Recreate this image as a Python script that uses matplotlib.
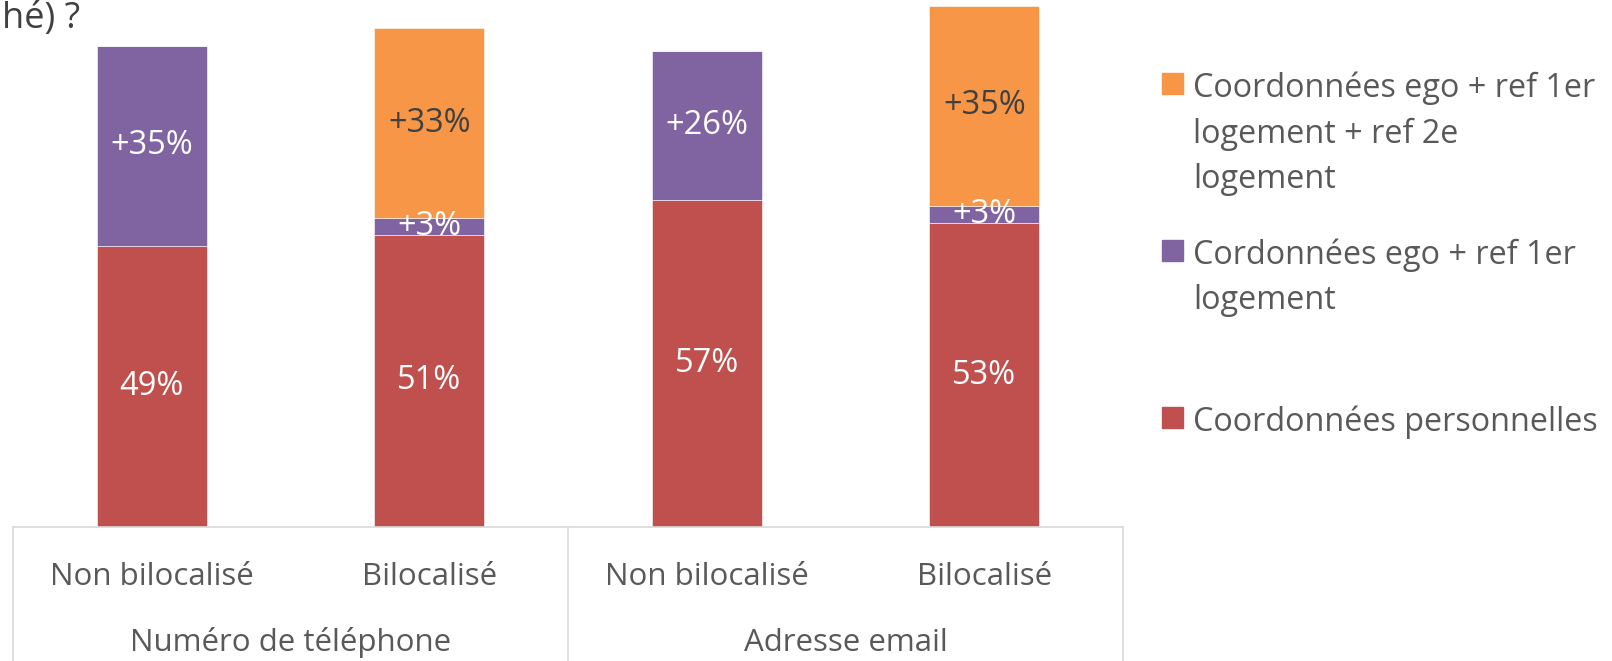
import matplotlib
matplotlib.use('Agg')
from matplotlib import pyplot as plt
import numpy as np

# data
categories = ['Non bilocalisé', 'Bilocalisé', 'Non bilocalisé', 'Bilocalisé']
groups = ['Numéro de téléphone', 'Adresse email']
perso = [49, 51, 57, 53]
ego_ref1 = [35, 3, 26, 3]
ego_ref12 = [0, 33, 0, 35]
legend_labels = ['Coordonnées ego + ref 1er\nlogement + ref 2e\nlogement',
                 'Cordonnées ego + ref 1er\nlogement',
                 'Coordonnées personnelles']

RED = '#C0504D'
PURPLE = '#8064A2'
ORANGE = '#F79646'
GRID = '#D9D9D9'
TXT = '#595959'

plt.rcParams['font.family'] = ['Open Sans', 'DejaVu Sans']

W, H = 1612, 661
fig = plt.figure(figsize=(W / 100, H / 100), dpi=100)

# axes placed in pixel coords: baseline at y=527, table from x=13 to x=1124
x0, x1 = 12.8, 1123.2
base = 527
px_per_pct = 5.73
ax = fig.add_axes([x0 / W, (H - base) / H, (x1 - x0) / W, base / H])
ax.set_xlim(-0.5, 3.5)
ax.set_ylim(0, base / px_per_pct)

x = np.arange(len(categories))
bw = 0.396
b1 = ax.bar(x, perso, bw, color=RED, edgecolor='white', linewidth=0.4)
b2 = ax.bar(x, ego_ref1, bw, bottom=perso, color=PURPLE, edgecolor='white', linewidth=0.4)
bottom3 = np.array(perso) + np.array(ego_ref1)
b3 = ax.bar(x, ego_ref12, bw, bottom=bottom3, color=ORANGE, edgecolor='white', linewidth=0.4)

fs = 22.5
fs_val = 23.5
ax.bar_label(b1, labels=[f'{v}%' for v in perso], label_type='center', color='white', fontsize=fs_val)
ax.bar_label(b2, labels=[f'+{v}%' for v in ego_ref1], label_type='center', color='white', fontsize=fs_val)
ax.bar_label(b3, labels=[f'+{v}%' if v else '' for v in ego_ref12], label_type='center',
             color='#404040', fontsize=fs_val)

# axis look
for s in ['top', 'right', 'left']:
    ax.spines[s].set_visible(False)
ax.spines['bottom'].set_color(GRID)
ax.spines['bottom'].set_linewidth(1.2)
ax.set_yticks([])
ax.set_xticks([])

# table-like category axis
tr = ax.get_xaxis_transform()
for xv in [-0.5, 1.5, 3.5]:
    ax.plot([xv, xv], [0, -1], color=GRID, lw=1.2, transform=tr, clip_on=False)
for xi, c in zip(x, categories):
    ax.text(xi, -50 / base, c, transform=tr, ha='center', va='center', fontsize=fs, color=TXT)
for gi, g in enumerate(groups):
    ax.text(0.5 + 2 * gi, -116 / base, g, transform=tr, ha='center', va='center', fontsize=fs, color=TXT)

# cut-off title
fig.text(80 / W, 1 - 19 / H, 'hé) ?', ha='right', va='center', fontsize=26, color='#404040')

# legend drawn by hand, one text per line
leg = [(ORANGE, 84), (PURPLE, 251), (RED, 418)]
for (col, yc), lab in zip(leg, legend_labels):
    fig.patches.append(plt.Rectangle((1162 / W, 1 - (yc + 10) / H), 21 / W, 21 / H,
                                     transform=fig.transFigure, color=col))
    for i, line in enumerate(lab.split('\n')):
        fig.text(1193 / W, 1 - (yc + 46 * i) / H, line, ha='left', va='center_baseline',
                 fontsize=23.3, color=TXT)

fig.savefig('out.png', dpi=100)
